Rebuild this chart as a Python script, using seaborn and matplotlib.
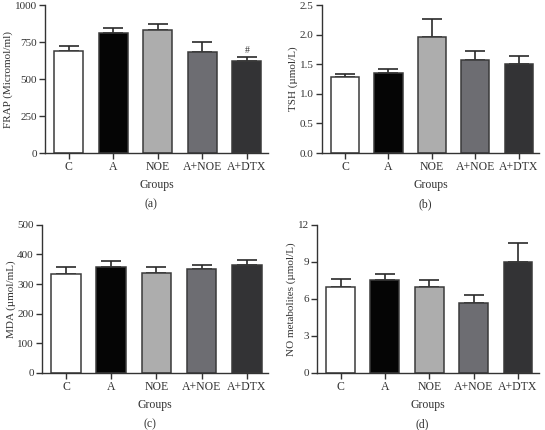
import matplotlib
matplotlib.use("Agg")
import matplotlib.pyplot as plt
import seaborn as sns
import pandas as pd

sns.set_theme(style="ticks")
plt.rcParams["font.family"] = ["Liberation Serif", "DejaVu Serif"]

groups = ["C", "A", "NOE", "A+NOE", "A+DTX"]
bar_colors = ["#ffffff", "#050505", "#adadad", "#6d6d72", "#333335"]

frap_mean = [690, 810, 830, 685, 625]
frap_err = [32, 33, 40, 67, 25]

tsh_mean = [1.28, 1.36, 1.97, 1.58, 1.51]
tsh_err = [0.06, 0.06, 0.29, 0.14, 0.13]

mda_mean = [335, 357, 338, 350, 366]
mda_err = [23, 21, 18, 16, 17]

no_mean = [6.95, 7.55, 7.0, 5.7, 8.95]
no_err = [0.7, 0.45, 0.5, 0.65, 1.55]

panels = [
    ("(a)", frap_mean, frap_err, "FRAP (Micromol/ml)", (0, 1000), [0, 250, 500, 750, 1000], "{:.0f}",
     [0.0826, 0.644, 0.409, 0.344]),
    ("(b)", tsh_mean, tsh_err, "TSH (µmol/L)", (0, 2.5), [0, 0.5, 1.0, 1.5, 2.0, 2.5], "{:.1f}",
     [0.591, 0.644, 0.398, 0.344]),
    ("(c)", mda_mean, mda_err, "MDA (µmol/mL)", (0, 500), [0, 100, 200, 300, 400, 500], "{:.0f}",
     [0.077, 0.133, 0.415, 0.344]),
    ("(d)", no_mean, no_err, "NO metabolites (µmol/L)", (0, 12), [0, 3, 6, 9, 12], "{:.0f}",
     [0.5817, 0.133, 0.407, 0.344]),
]

fig = plt.figure(figsize=(5.45, 4.30), dpi=100)

for tag, mean, err, ylabel, ylim, yticks, fmt, pos in panels:
    ax = fig.add_axes(pos)
    df = pd.DataFrame({"group": groups, "value": mean})
    # error bars first so the bar covers the lower half
    ax.errorbar(range(len(groups)), mean, yerr=[[0] * len(err), err], fmt="none",
                ecolor="#2a2a2a", elinewidth=1.2, capsize=7, capthick=1.2, zorder=1)
    sns.barplot(data=df, x="group", y="value", hue="group", palette=bar_colors,
                legend=False, width=0.65, edgecolor="#3a3a3a", linewidth=1.1,
                saturation=1, ax=ax, zorder=2)
    ax.set_ylim(*ylim)
    ax.set_xlim(-0.53, 4.47)
    ax.set_yticks(yticks)
    ax.set_yticklabels([fmt.format(t) for t in yticks])
    ax.set_ylabel(ylabel, fontsize=8, color="#333333", labelpad=1)
    ax.set_xlabel("Groups", fontsize=8.5, color="#333333", labelpad=4)
    ax.tick_params(labelsize=8, colors="#333333", length=4, width=1, pad=2)
    ax.tick_params(axis="x", labelsize=8.5)
    for s in ["left", "bottom"]:
        ax.spines[s].set_linewidth(1)
        ax.spines[s].set_color("#333333")
    sns.despine(ax=ax)
    bb = ax.get_position()
    fig.text(bb.x0 + bb.width / 2 - 0.01, bb.y0 - 0.12, tag, fontsize=8.5,
             color="#333333", ha="center", va="center")
    if tag == "(a)":
        ax.text(4, mean[4] + err[4] + 15, "#", fontsize=7, ha="center", va="bottom", color="#333333")

fig.savefig("out.png", dpi=100)
